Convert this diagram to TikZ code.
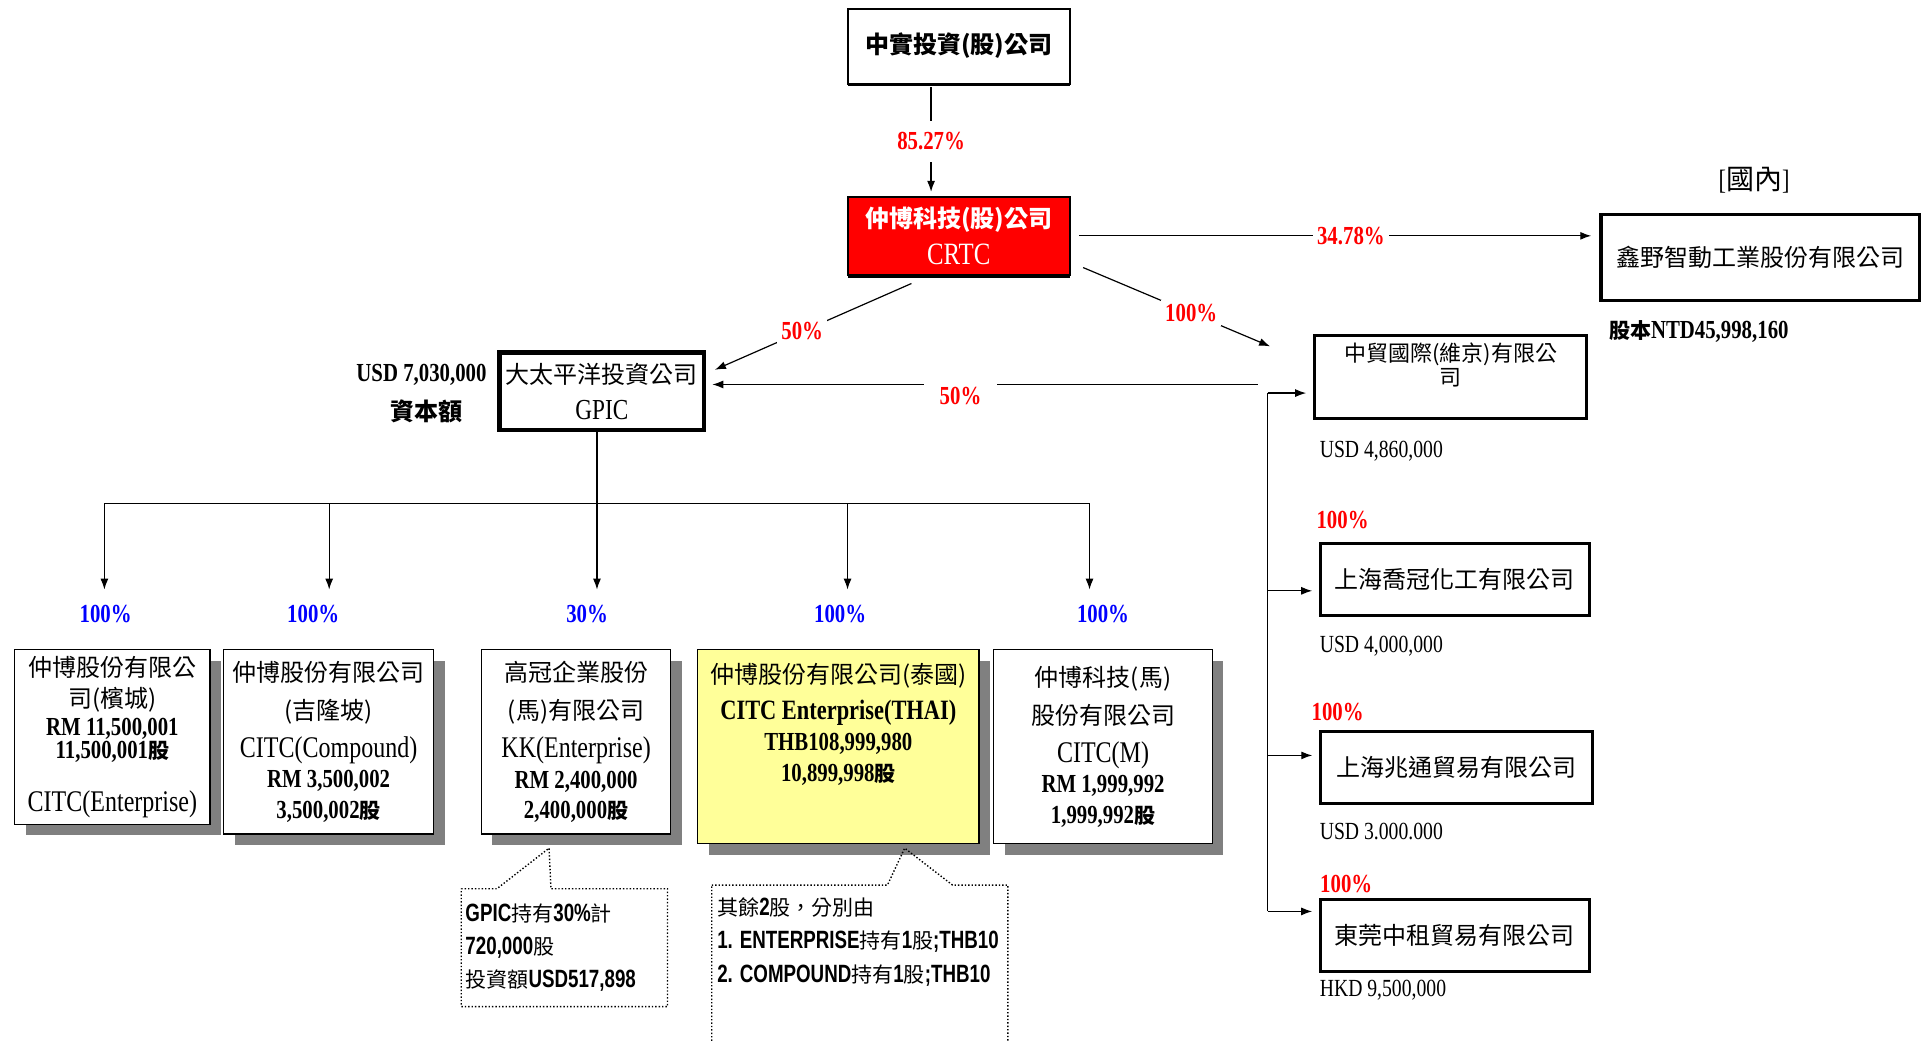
\documentclass[tikz,border=0pt]{standalone}
\usepackage{fontspec}
\setmainfont{Liberation Serif}[FakeStretch=0.8]
\newfontfamily\cjk{Noto Sans CJK TC}
\newfontfamily\narrowsf{Liberation Sans}[FakeStretch=0.75]
\usetikzlibrary{arrows.meta,calc,shadows}
\definecolor{noteyellow}{HTML}{FFFF99}
\definecolor{boxshadow}{HTML}{808080}
\newcommand\zh[1]{{\cjk #1}}
\newcommand\zs[1]{{\cjk\bfseries\fontsize{10.5}{12}\selectfont #1}}
\newcommand\ent[1]{{\rmfamily\fontsize{15}{19}\selectfont #1}}
\newcommand\numb[1]{{\rmfamily\bfseries\fontsize{13}{19}\selectfont #1}}
\newcommand\nsb[1]{{\narrowsf\bfseries\fontsize{12.5}{16.6}\selectfont #1}}

\begin{document}
\begin{tikzpicture}[x=0.614pt, y=-0.614pt, >={Latex[length=5.5pt,width=4pt]}, line width=0.6pt,
  descr/.style={fill=white, inner sep=2pt},
  pct/.style={font=\rmfamily\bfseries\fontsize{13}{15}\selectfont, text=red},
  bluepct/.style={pct, text=blue},
  capital/.style={font=\rmfamily\fontsize{12.3}{14}\selectfont, anchor=west, inner sep=0pt},
  topbox/.style={draw, line width=1pt, inner sep=1pt, align=center, minimum width=111.1pt,
    font=\cjk\bfseries\fontsize{12}{19}\selectfont,
    drop shadow={shadow xshift=0pt, shadow yshift=-1.4pt, fill=black, opacity=1}},
  subbox/.style={draw, line width=1.5pt, inner sep=1pt, align=center, minimum height=36pt,
    font=\cjk\fontsize{12}{19}\selectfont},
  unitbox/.style={draw, line width=0.6pt, fill=white, inner sep=1pt, align=center,
    font=\cjk\fontsize{12}{19}\selectfont,
    drop shadow={shadow xshift=5.5pt, shadow yshift=-5.5pt, fill=boxshadow, opacity=1}},
  note/.style={densely dotted, line width=0.7pt},
  notetext/.style={font=\cjk\fontsize{10.5}{16.6}\selectfont, align=left, inner sep=0pt}]
\useasboundingbox (0,0) rectangle (1568,848.3);

% parent companies
\node[topbox, fill=white, minimum height=37.5pt] (inv) at (780.5,37.5) {中實投資(股)公司};
\node[topbox, fill=red, text=white, minimum height=39.3pt] (crtc) at (780.5,192)
  {仲博科技(股)公司\\[-0.6pt]{\rmfamily\mdseries\fontsize{15.5}{19}\selectfont CRTC}};
\node[draw, line width=1.8pt, minimum width=159.1pt, minimum height=43pt,
  font=\cjk\fontsize{12}{14}\selectfont] (xy) at (1433,209.5) {鑫野智動工業股份有限公司};
\node[font=\rmfamily\fontsize{14}{16}\selectfont] (dom) at (1428,147) {[\zh{國內}]};
\node[font=\rmfamily\bfseries\fontsize{13}{15}\selectfont] (xycap) at (1383,270) {\zs{股本}NTD45,998,160};
\node[draw, line width=2.4pt, minimum width=102pt, minimum height=38.7pt, inner sep=1pt, align=center,
  font=\cjk\fontsize{12}{19}\selectfont] (gpic) at (490,318.5)
  {大太平洋投資公司\\[-1.2pt]{\rmfamily\fontsize{14.5}{19}\selectfont GPIC}};
\node[font=\rmfamily\bfseries\fontsize{13}{15}\selectfont, anchor=east] (gpiccap) at (402,305) {USD 7,030,000};
\node[font=\cjk\bfseries\fontsize{12}{14}\selectfont] (gpiccapl) at (347,335) {資本額};

% china side
\node[subbox, minimum width=136pt, minimum height=41.5pt, font=\cjk\fontsize{11}{11.7}\selectfont] (zm)
  at (1181,307) {中貿國際(維京)有限公\\司\\[1.2pt]\mbox{}};
\node[capital] (zmcap) at (1074,367) {USD 4,860,000};
\node[subbox, minimum width=134.2pt] (qg) at (1184.5,471.5) {上海喬冠化工有限公司};
\node[pct] (qgpct) at (1093,423) {100\%};
\node[capital] (qgcap) at (1074,526) {USD 4,000,000};
\node[subbox, minimum width=136pt] (zt) at (1186,624.5) {上海兆通貿易有限公司};
\node[pct] (ztpct) at (1089,580) {100\%};
\node[capital] (ztcap) at (1074,677) {USD 3.000.000};
\node[subbox, minimum width=134.2pt] (dg) at (1184.5,761.5) {東莞中租貿易有限公司};
\node[pct] (dgpct) at (1096,720) {100\%};
\node[capital] (dgcap) at (1074,806) {HKD 9,500,000};

% overseas units
\node[unitbox, minimum width=97.6pt, minimum height=87.2pt] (citce) at (91.5,600)
  {仲博股份有限公\\[-3.6pt]司(檳城)\\[-5pt]\numb{RM 11,500,001}\\[-7.3pt]\numb{11,500,001\zs{股}}\\[7pt]\ent{CITC(Enterprise)}};
\node[unitbox, minimum width=105pt, minimum height=92.1pt] (citcc) at (267.5,604)
  {仲博股份有限公司\\(吉隆坡)\\\ent{CITC(Compound)}\\[-3.6pt]\numb{RM 3,500,002}\\[-3.6pt]\numb{3,500,002\zs{股}}};
\node[unitbox, minimum width=94.6pt, minimum height=92.1pt] (kk) at (469,604)
  {高冠企業股份\\(馬)有限公司\\\ent{KK(Enterprise)}\\[-3.6pt]\numb{RM 2,400,000}\\[-3.6pt]\numb{2,400,000\zs{股}}};
\node[unitbox, fill=noteyellow, minimum width=140.6pt, minimum height=97pt] (thai) at (682.5,608)
  {仲博股份有限公司(泰國)\\[-0.6pt]{\rmfamily\bfseries\fontsize{14}{19}\selectfont CITC Enterprise(THAI)}\\[-3.6pt]\numb{THB108,999,980}\\[-3.6pt]\numb{10,899,998\zs{股}}\\[5.6pt]\mbox{}};
\node[unitbox, minimum width=109.3pt, minimum height=97pt] (citcm) at (898,608)
  {仲博科技(馬)\\股份有限公司\\\ent{CITC(M)}\\[-3.6pt]\numb{RM 1,999,992}\\[-3.6pt]\numb{1,999,992\zs{股}}};
\foreach \x/\p [count=\i] in {86/100,255/100,478/30,684/100,898/100}
  \node[bluepct] (own\i) at (\x,500) {\p\%};

% holdings
\draw[->] ($(inv.south)+(-22.5,2)$) -- node[descr, pct, pos=0.52, inner ysep=6pt] (p1) {85.27\%} ($(crtc.north)+(-22.5,-3)$);
\draw[->, shorten <=4pt, shorten >=4pt] (crtc.east) -- node[descr, pct, pos=0.53] (p2) {34.78\%} (crtc.east -| xy.west);
\draw[->] ($(crtc.south)+(-38.5,6)$) -- node[descr, pct, pos=0.556] (p3) {50\%} ($(gpic.north east)+(7,16)$);
\draw[->] ($(crtc.south east)+(10,-7)$) -- node[descr, pct, pos=0.578] (p4) {100\%} ($(zm.north west)+(-35,10)$);
\coordinate (back) at (1024,313);
\draw[->, shorten >=3pt] (back) -- node[descr, pct, pos=0.539, inner xsep=8pt, inner ysep=3pt, yshift=-6pt] (p5) {50\%} (back -| gpic.east);

% gpic bus
\coordinate (busl) at (85,410);
\coordinate (busr) at (887,410);
\foreach \x [count=\i] in {85,268,486,690,887}
  \coordinate (drop\i) at (\x,480);
\draw (gpic.south -| drop3) -- (drop3 |- busl);
\draw (busl) -- (busr);
\foreach \i in {1,...,5}
  \draw[->] (drop\i |- busl) -- (drop\i);

% china bus
\foreach \y [count=\i] in {320,481,615,742}
  \coordinate (rb\i) at (1032,\y);
\draw (rb1) -- (rb4);
\foreach \i/\n in {1/zm,2/qg,3/zt,4/dg}
  \draw[->, shorten >=3.5pt] (rb\i) -- (rb\i -| \n.west);

% notes
\coordinate (tip1) at ($(kk.south)+(-22,11)$);
\node[notetext, inner xsep=1.8pt, text width=98.9pt, minimum height=58.3pt] (gpicnote) at (459.5,771.5)
  {\nsb{GPIC}持有\nsb{30\%}計\\\nsb{720,000}股\\投資額\nsb{USD517,898}};
\draw[note] (gpicnote.north west) -- ($(gpicnote.north west)+(29,0)$) -- (tip1)
  -- ($(gpicnote.north west)+(73,0)$) -- (gpicnote.north east) -- (gpicnote.south east)
  -- (gpicnote.south west) -- cycle;
\coordinate (tip2) at ($(thai.south)+(54,3)$);
\node[minimum width=147.4pt, minimum height=85.3pt, inner sep=0pt] (thainote) at (700,790.5) {};
\draw[note] (thainote.north west) -- ($(thainote.north west)+(143,0)$) -- (tip2)
  -- ($(thainote.north west)+(196,0)$) -- (thainote.north east) -- (thainote.south east)
  -- (thainote.south west) -- cycle;
\node[notetext, anchor=north west] (thainotetext) at ($(thainote.north west)+(4,10)$)
  {其餘\nsb{2}股，分別由\\\nsb{1. ENTERPRISE}持有\nsb{1}股\nsb{;THB10}\\\nsb{2. COMPOUND}持有\nsb{1}股\nsb{;THB10}};
\end{tikzpicture}
\end{document}
